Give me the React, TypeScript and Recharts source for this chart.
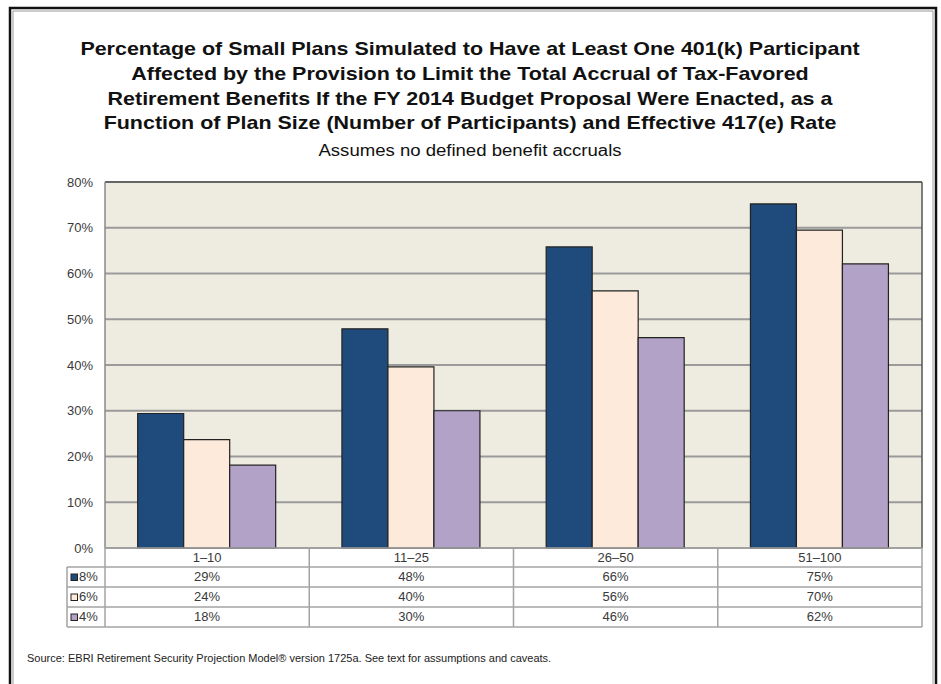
import React from "react";
import { BarChart, Bar, XAxis, YAxis, CartesianGrid } from "recharts";

const categories = ["1–10", "11–25", "26–50", "51–100"];
const rate8 = [29.4, 47.9, 65.8, 75.2];
const rate6 = [23.7, 39.6, 56.2, 69.5];
const rate4 = [18.1, 30.0, 46.0, 62.1];
const seriesNames = ["8%", "6%", "4%"];
const seriesColors = ["#1F4A7C", "#FDEADA", "#B3A2C7"];
const yTicks = [0, 10, 20, 30, 40, 50, 60, 70, 80];
const titleLines = [
  "Percentage of Small Plans Simulated to Have at Least One 401(k) Participant",
  "Affected by the Provision to Limit the Total Accrual of Tax-Favored",
  "Retirement Benefits If the FY 2014 Budget Proposal Were Enacted, as a",
  "Function of Plan Size (Number of Participants) and Effective 417(e) Rate",
];
const subtitle = "Assumes no defined benefit accruals";
const sourceText =
  "Source: EBRI Retirement Security Projection Model® version 1725a. See text for assumptions and caveats.";

const data = categories.map((c, i) => ({
  cat: c,
  r8: rate8[i],
  r6: rate6[i],
  r4: rate4[i],
}));
const seriesArrays = [rate8, rate6, rate4];

const W = 941;
const H = 684;
const PL = 105;
const PR = 922;
const PT = 182;
const PB = 548;
const BW = (PR - PL) / categories.length;
const ROW_Y = [567, 587, 607, 627];
const LEG_X = 67;
const FONT = '"Liberation Sans", Arial, sans-serif';
const TXT = "#3a3a3a";
const LINE = "#a3a3a3";

const TableTick = (props: any) => {
  const { x, index } = props;
  const cat = categories[index];
  return (
    <g>
      <text x={x} y={PB + 14} textAnchor="middle" fontSize={13} fill={TXT} fontFamily={FONT}>
        {cat}
      </text>
      {seriesArrays.map((arr, si) => (
        <text
          key={si}
          x={x}
          y={ROW_Y[si] + 14}
          textAnchor="middle"
          fontSize={13}
          fill={TXT}
          fontFamily={FONT}
        >
          {Math.round(arr[index])}%
        </text>
      ))}
      <line x1={x + BW / 2} y1={PB} x2={x + BW / 2} y2={ROW_Y[3]} stroke={LINE} strokeWidth={1.5} />
      {index === 0 && (
        <line x1={x - BW / 2} y1={PB} x2={x - BW / 2} y2={ROW_Y[3]} stroke={LINE} strokeWidth={1.5} />
      )}
    </g>
  );
};

const YTick = (props: any) => {
  const { y, payload } = props;
  return (
    <text x={93} y={y + 4.5} textAnchor="end" fontSize={13} fill={TXT} fontFamily={FONT}>
      {payload.value}%
    </text>
  );
};

export default function App() {
  return (
    <div style={{ position: "absolute", left: 0, top: 0, width: W, height: H, background: "#fff" }}>
      <svg width={W} height={H} style={{ position: "absolute", left: 0, top: 0 }}>
        <rect x={10} y={8} width={926} height={H} fill="none" stroke="#111" strokeWidth={2.5} />
        <rect x={13} y={11} width={920} height={H} fill="none" stroke="#9a9a9a" strokeWidth={1} />
        <g transform="translate(470,0) scale(1.16,1)">
          {titleLines.map((t, i) => (
            <text
              key={i}
              x={0}
              y={55 + i * 24.8}
              textAnchor="middle"
              fontSize={18.5}
              fontWeight="bold"
              fill="#111"
              fontFamily={FONT}
            >
              {t}
            </text>
          ))}
          <text x={0} y={156} textAnchor="middle" fontSize={16} fill="#111" fontFamily={FONT}>
            {subtitle}
          </text>
        </g>
        <text x={27} y={662} fontSize={11} fill="#222" fontFamily={FONT}>
          {sourceText}
        </text>
      </svg>
      <div style={{ position: "absolute", left: 0, top: 0 }}>
        <BarChart
          width={W}
          height={H}
          data={data}
          margin={{ top: PT, right: W - PR, bottom: H - PB - 80, left: PL - 40 }}
          barCategoryGap="16%"
          barGap={0}
        >
          <CartesianGrid vertical={false} stroke="#9a9a9a" strokeWidth={1.8} fill="#EEECE1" />
          <XAxis
            dataKey="cat"
            height={80}
            axisLine={false}
            tickLine={false}
            tickSize={0}
            tickMargin={0}
            interval={0}
            tick={<TableTick />}
          />
          <YAxis
            width={40}
            domain={[0, 80]}
            ticks={yTicks}
            axisLine={false}
            tickLine={false}
            tick={<YTick />}
          />
          <Bar dataKey="r8" name={seriesNames[0]} fill={seriesColors[0]} stroke="#222" strokeWidth={1.2} isAnimationActive={false} />
          <Bar dataKey="r6" name={seriesNames[1]} fill={seriesColors[1]} stroke="#222" strokeWidth={1.2} isAnimationActive={false} />
          <Bar dataKey="r4" name={seriesNames[2]} fill={seriesColors[2]} stroke="#222" strokeWidth={1.2} isAnimationActive={false} />
        </BarChart>
      </div>
      <svg width={W} height={H} style={{ position: "absolute", left: 0, top: 0, pointerEvents: "none" }}>
        <line x1={PL} y1={PT} x2={PR} y2={PT} stroke="#555" strokeWidth={1.5} />
        <line x1={PR} y1={PT} x2={PR} y2={PB} stroke="#555" strokeWidth={1.5} />
        <line x1={PL} y1={PT} x2={PL} y2={PB} stroke="#8a8a8a" strokeWidth={1.5} />
        <line x1={PL} y1={PB} x2={PR} y2={PB} stroke={LINE} strokeWidth={1.5} />
        {ROW_Y.map((ry, i) => (
          <line key={i} x1={LEG_X} y1={ry} x2={PR} y2={ry} stroke={LINE} strokeWidth={1.5} />
        ))}
        <line x1={LEG_X} y1={ROW_Y[0]} x2={LEG_X} y2={ROW_Y[3]} stroke={LINE} strokeWidth={1.5} />
        {seriesNames.map((n, i) => (
          <g key={n}>
            <rect x={71} y={ROW_Y[i] + 7} width={6.5} height={6.5} fill={seriesColors[i]} stroke="#222" strokeWidth={1} />
            <text x={79} y={ROW_Y[i] + 14} fontSize={13} fill={TXT} fontFamily={FONT}>
              {n}
            </text>
          </g>
        ))}
      </svg>
    </div>
  );
}
